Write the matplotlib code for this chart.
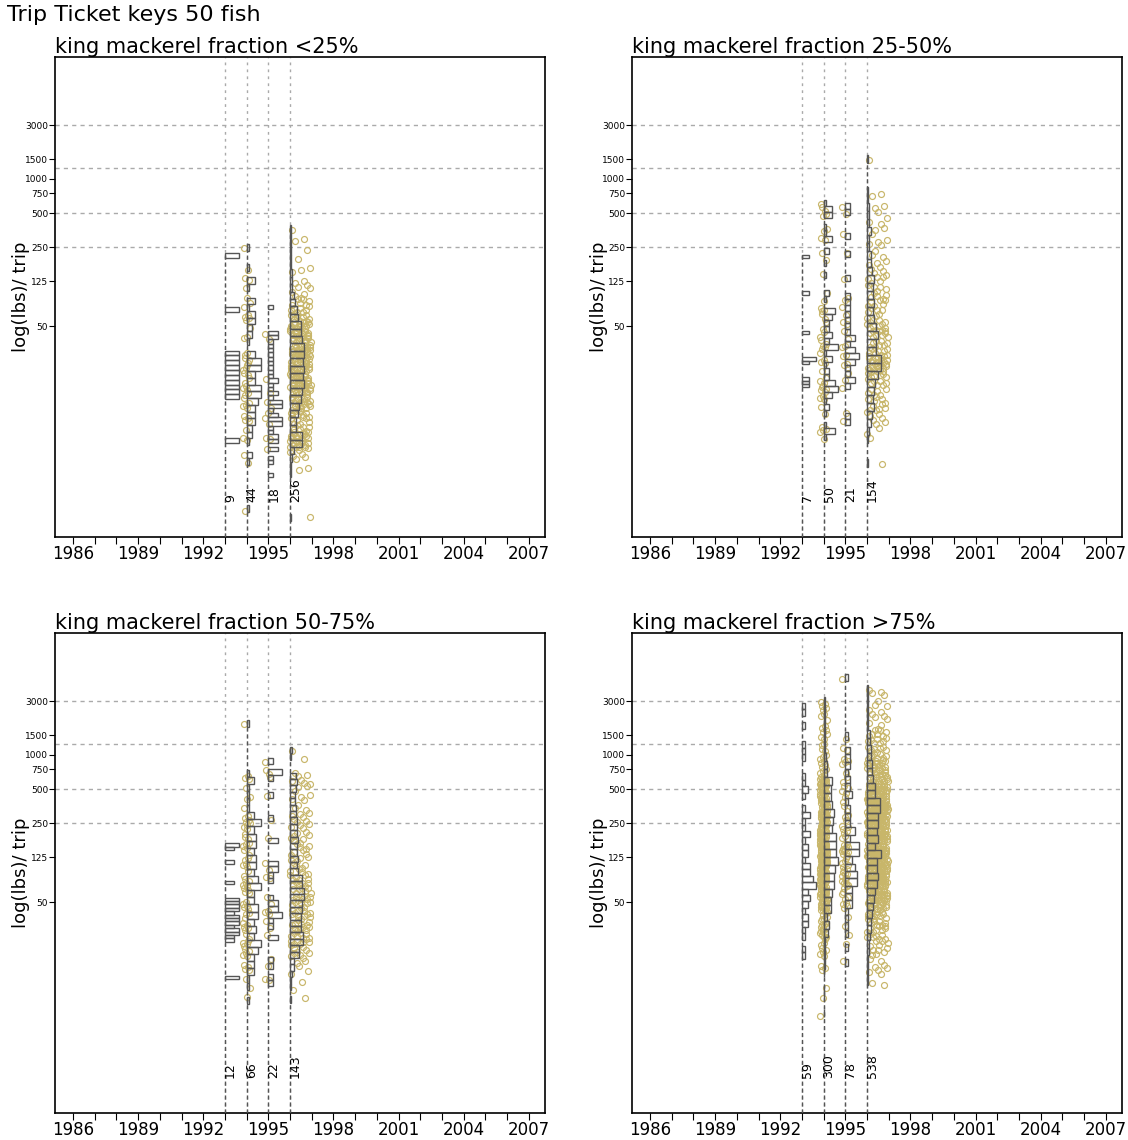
import numpy as np
import matplotlib
matplotlib.use('Agg')
import matplotlib.pyplot as plt

plt.rcParams['font.family'] = ['DejaVu Sans']

# ---------------- data ----------------
suptitle = 'Trip Ticket keys 50 fish'
panel_titles = ['king mackerel fraction <25%', 'king mackerel fraction 25-50%',
                'king mackerel fraction 50-75%', 'king mackerel fraction >75%']
years = [1993, 1994, 1995, 1996]
y_label = 'log(lbs)/ trip'
y_ticks = [50, 125, 250, 500, 750, 1000, 1500, 3000]
h_grid = [250, 500, 1250, 3000]
x_ticks = list(range(1986, 2008))
x_labels = [str(y) if (y - 1986) % 3 == 0 else '' for y in x_ticks]

# trips per year (printed counts)
n_p1 = [9, 44, 18, 256]
n_p2 = [7, 50, 21, 154]
n_p3 = [12, 66, 22, 143]
n_p4 = [59, 300, 78, 538]

# histogram bins: top edge (lbs), bin width (log10 units), counts listed top -> bottom
top_p1 = [221, 266, 76.7, 392]
bw_p1 = [0.0431, 0.0593, 0.0381, 0.0655]
c_p1_1993 = [1,0,0,0,0,0,0,0,0,0, 0,1,0,0,0,0,0,0,0,0, 1,1,1,1,1,1,1,1,1,1, 0,0,0,0,0,0,0,0,1,0]
c_p1_1994 = [1,0,0,1,0,3,1,0,3,1, 3,3,2,2,1,0,3,5,5,3, 3,5,5,4,3,3,3,2,2,1, 0,2,1,0,0,0,0,0,0,1]
c_p1_1995 = [1,0,0,0,0,0,2,2,1,1, 1,1,1,1,1,1,1,2,1,1, 2,1,3,3,1,2,3,3,1,1, 2,2,0,2,0,1,1,0,0,1]
c_p1_1996 = [1,1,2,1,2,2,3,3,4,6, 9,12,14,18,18,20,24,24,22,24, 22,24,20,18,16,14,10,10,20,20, 6,4,2,1,0,0,0,0,0,1]

top_p2 = [212, 652, 612, 1630]
bw_p2 = [0.0292, 0.0531, 0.0531, 0.0708]
c_p2_1993 = [1,0,0,0,0,0,0,0,0,0, 0,1,0,0,0,0,0,0,0,0, 0,0,0,1,0,0,0,0,0,0, 0,2,1,0,0,0,0,1,1,1]
c_p2_1994 = [1,3,3,0,1,1,3,0,2,0, 1,0,1,0,0,2,1,0,4,3, 2,2,3,2,5,1,3,1,2,2, 4,5,3,1,2,1,0,1,4,1]
c_p2_1995 = [1,1,0,0,0,1,0,0,1,0, 0,0,1,0,0,1,1,1,1,1, 1,1,2,1,2,3,2,1,1,2, 1,0,0,0,0,1,1]
c_p2_1996 = [1,0,0,0,1,1,2,2,2,3, 2,2,3,3,4,6,5,5,6,5, 6,8,9,8,8,12,12,9,7,6, 5,6,4,3,2,1,0,0,1]

top_p3 = [166, 2042, 940, 1178]
bw_p3 = [0.0301, 0.0628, 0.0504, 0.0566]
c_p3_1993 = [3,2,0,0,0,2,0,0,0,0, 0,2,0,0,0,0,3,3,3,3, 2,3,3,3,2,3,3,2,2,0, 0,0,0,0,0,0,0,0,0,3]
c_p3_1994 = [1,0,0,0,0,0,0,1,3,1, 1,1,1,3,6,3,4,4,3,4, 4,3,5,6,3,3,5,5,3,4, 3,6,5,3,3,3,1,1,0,1]
c_p3_1995 = [1,0,3,1,0,0,1,0,0,0, 1,0,0,0,2,0,0,0,2,2, 1,1,0,0,1,2,2,3,1,1, 0,2,0,0,0,1,1,0,1,1]
c_p3_1996 = [2,1,0,0,5,6,5,4,4,5, 5,6,6,6,7,6,6,7,6,7, 10,10,12,12,10,10,9,9,9,11, 11,8,8,3,3,2,1,1,0,1]

top_p4 = [2884, 3260, 5210, 4160]
bw_p4 = [0.0566, 0.0708, 0.0646, 0.0664]
c_p4_1993 = [1,1,0,1,0,0,1,1,1,0, 0,1,1,2,1,0,1,3,1,1, 3,1,2,2,1,3,3,4,5,2, 3,2,1,2,2,1,1,0,1,1]
c_p4_1994 = [2,3,3,2,3,3,3,4,5,6, 15,13,13,15,18,16,15,21,21,21, 24,19,18,18,15,13,12,6,9,8, 3,3,2,2,1,0,1,1,0,1]
c_p4_1995 = [1,0,0,0,0,0,0,0,1,0, 2,2,2,1,2,2,3,1,2,2, 2,4,2,6,6,3,4,5,5,3, 3,3,1,1,1,1,0,1,0,1]
c_p4_1996 = [2,2,3,3,3,4,8,8,10,10, 14,14,18,22,24,36,38,30,30,28, 30,24,40,28,28,30,28,22,20,16, 14,10,10,8,6,6,4,3,3,2]

panels = [
    (panel_titles[0], n_p1, top_p1, bw_p1, [c_p1_1993, c_p1_1994, c_p1_1995, c_p1_1996]),
    (panel_titles[1], n_p2, top_p2, bw_p2, [c_p2_1993, c_p2_1994, c_p2_1995, c_p2_1996]),
    (panel_titles[2], n_p3, top_p3, bw_p3, [c_p3_1993, c_p3_1994, c_p3_1995, c_p3_1996]),
    (panel_titles[3], n_p4, top_p4, bw_p4, [c_p4_1993, c_p4_1994, c_p4_1995, c_p4_1996]),
]

# ---------------- style ----------------
W, H = 1128, 1140
YMIN, YMAX = 0.68, 12000
XMIN, XMAX = 1985.17, 2007.75
BAR_MAX = 0.65          # widest bar in a year, in years
PT_COLOR = '#C8B66A'
HIST_COLOR = '#555555'
GRID_COLOR = '#aaaaaa'

fig = plt.figure(figsize=(W / 100, H / 100), dpi=100)
boxes = [(55, 57), (632, 57), (55, 633), (632, 633)]
AW, AH = 490, 480

fig.text(7 / W, 1 - 5 / H, suptitle, ha='left', va='top', fontsize=16)

A1, A2 = 0.7548776662, 0.5698402910

for (px, py), (title, ns, tops, bws, counts_list) in zip(boxes, panels):
    ax = fig.add_axes([px / W, 1 - (py + AH) / H, AW / W, AH / H])
    ax.set_yscale('log')
    ax.set_xlim(XMIN, XMAX)
    ax.set_ylim(YMIN, YMAX)
    for v in h_grid:
        ax.axhline(v, color=GRID_COLOR, lw=1, dashes=(3, 3), zorder=1)
    for yr in years:
        ax.axvline(yr, color=GRID_COLOR, lw=1, dashes=(2, 3), zorder=1)

    for gi, (yr, n, top, bw, cnts) in enumerate(zip(years, ns, tops, bws, counts_list)):
        cnts = np.asarray(cnts, float)
        k = np.arange(len(cnts))
        ltop = np.log10(top)
        hi = 10 ** (ltop - k * bw)
        lo = 10 ** (ltop - (k + 1) * bw)
        wid = cnts / cnts.max() * BAR_MAX
        m = cnts > 0
        ax.vlines(yr, YMIN, top, color=HIST_COLOR, lw=1, linestyles=(0, (3, 2)), zorder=3)
        ax.barh(lo[m], wid[m], height=(hi - lo)[m], left=yr, align='edge',
                fill=False, edgecolor=HIST_COLOR, lw=1.0, zorder=4)
        if gi > 0:
            npts = np.round(cnts * n / cnts.sum()).astype(int)
            xs, ys = [], []
            j = 0
            for b in range(len(cnts)):
                for i in range(npts[b]):
                    fy = (0.37 + j * A1) % 1.0
                    fx = (0.11 + j * A2) % 1.0
                    ys.append(10 ** (np.log10(lo[b]) + fy * bw))
                    if gi == 3:
                        xs.append(yr + fx * 0.95)
                    else:
                        xs.append(yr - 0.17 + fx * 0.32)
                    j += 1
            ax.plot(xs, ys, 'o', mfc='none', mec=PT_COLOR, ms=4.3, mew=0.85, zorder=2)
        ax.text(yr + 0.25, 1.38, str(n), rotation=90, ha='center', va='bottom',
                fontsize=9, zorder=5)

    ax.set_xticks(x_ticks)
    ax.set_xticklabels(x_labels)
    ax.set_yticks(y_ticks)
    ax.set_yticklabels([str(v) for v in y_ticks])
    ax.yaxis.set_minor_locator(matplotlib.ticker.NullLocator())
    ax.tick_params(axis='x', direction='out', length=5, labelsize=12, pad=1)
    ax.tick_params(axis='y', direction='out', length=4, labelsize=6.5, pad=1)
    for s in ax.spines.values():
        s.set_linewidth(1.2)
    ax.set_title(title, loc='left', fontsize=15, pad=0)
    ax.set_ylabel(y_label, fontsize=13)
    ax.yaxis.set_label_coords(-0.05, 0.5)

fig.savefig('out.png', dpi=100)
